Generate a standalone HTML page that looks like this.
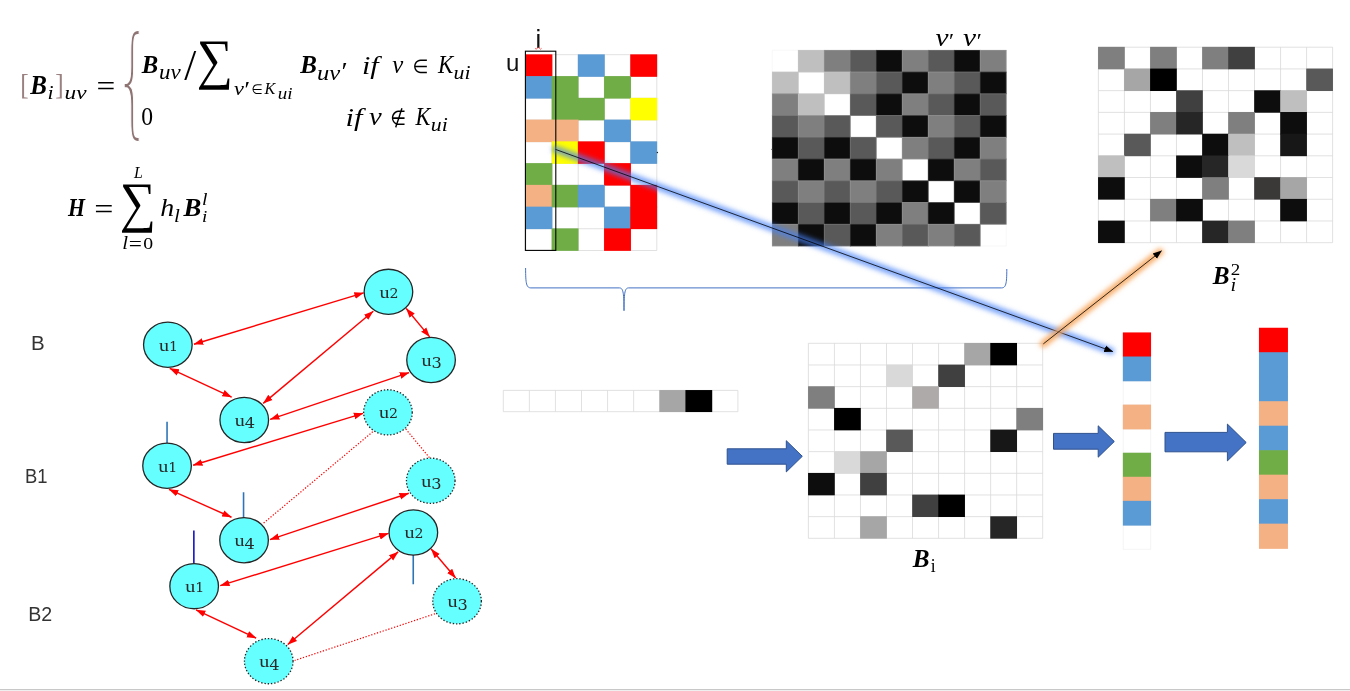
<!DOCTYPE html>
<html><head><meta charset="utf-8"><title>Bi diagram</title>
<style>
html,body{margin:0;padding:0;background:#fff;}
body{width:1350px;height:691px;overflow:hidden;position:relative;}
svg{position:absolute;left:0;top:0;display:block}
</style></head><body>
<svg width="1350" height="691" viewBox="0 0 1350 691">
<g>
<rect x="525.80" y="54.70" width="131.00" height="195.80" fill="#fff"/>
<path d="M525.80 54.70V250.50M552.00 54.70V250.50M578.20 54.70V250.50M604.40 54.70V250.50M630.60 54.70V250.50M656.80 54.70V250.50M525.80 54.70H656.80M525.80 76.46H656.80M525.80 98.21H656.80M525.80 119.97H656.80M525.80 141.72H656.80M525.80 163.48H656.80M525.80 185.23H656.80M525.80 206.99H656.80M525.80 228.74H656.80M525.80 250.50H656.80" stroke="#D9D9D9" stroke-width="0.8" fill="none" opacity="1.0"/>
<rect x="525.45" y="54.35" width="26.90" height="22.46" fill="#FF0000"/>
<rect x="577.85" y="54.35" width="26.90" height="22.46" fill="#5B9BD5"/>
<rect x="630.25" y="54.35" width="26.90" height="22.46" fill="#FF0000"/>
<rect x="525.45" y="76.11" width="26.90" height="22.46" fill="#5B9BD5"/>
<rect x="551.65" y="76.11" width="26.90" height="22.46" fill="#70AD47"/>
<rect x="604.05" y="76.11" width="26.90" height="22.46" fill="#70AD47"/>
<rect x="551.65" y="97.86" width="26.90" height="22.46" fill="#70AD47"/>
<rect x="577.85" y="97.86" width="26.90" height="22.46" fill="#70AD47"/>
<rect x="630.25" y="97.86" width="26.90" height="22.46" fill="#FFFF00"/>
<rect x="525.45" y="119.62" width="26.90" height="22.46" fill="#F4B183"/>
<rect x="551.65" y="119.62" width="26.90" height="22.46" fill="#F4B183"/>
<rect x="604.05" y="119.62" width="26.90" height="22.46" fill="#5B9BD5"/>
<rect x="551.65" y="141.37" width="26.90" height="22.46" fill="#FFFF00"/>
<rect x="577.85" y="141.37" width="26.90" height="22.46" fill="#FF0000"/>
<rect x="630.25" y="141.37" width="26.90" height="22.46" fill="#5B9BD5"/>
<rect x="525.45" y="163.13" width="26.90" height="22.46" fill="#70AD47"/>
<rect x="604.05" y="163.13" width="26.90" height="22.46" fill="#FF0000"/>
<rect x="525.45" y="184.88" width="26.90" height="22.46" fill="#F4B183"/>
<rect x="551.65" y="184.88" width="26.90" height="22.46" fill="#70AD47"/>
<rect x="577.85" y="184.88" width="26.90" height="22.46" fill="#5B9BD5"/>
<rect x="630.25" y="184.88" width="26.90" height="22.46" fill="#FF0000"/>
<rect x="525.45" y="206.64" width="26.90" height="22.46" fill="#5B9BD5"/>
<rect x="604.05" y="206.64" width="26.90" height="22.46" fill="#5B9BD5"/>
<rect x="630.25" y="206.64" width="26.90" height="22.46" fill="#FF0000"/>
<rect x="551.65" y="228.39" width="26.90" height="22.46" fill="#70AD47"/>
<rect x="604.05" y="228.39" width="26.90" height="22.46" fill="#FF0000"/>
</g>
<g>
<rect x="772.30" y="50.30" width="233.90" height="195.70" fill="#fff"/>
<rect x="797.94" y="49.95" width="26.69" height="22.44" fill="#BFBFBF"/>
<rect x="823.93" y="49.95" width="26.69" height="22.44" fill="#7F7F7F"/>
<rect x="849.92" y="49.95" width="26.69" height="22.44" fill="#595959"/>
<rect x="875.91" y="49.95" width="26.69" height="22.44" fill="#0D0D0D"/>
<rect x="901.89" y="49.95" width="26.69" height="22.44" fill="#7F7F7F"/>
<rect x="927.88" y="49.95" width="26.69" height="22.44" fill="#595959"/>
<rect x="953.87" y="49.95" width="26.69" height="22.44" fill="#0D0D0D"/>
<rect x="979.86" y="49.95" width="26.69" height="22.44" fill="#7F7F7F"/>
<rect x="771.95" y="71.69" width="26.69" height="22.44" fill="#BFBFBF"/>
<rect x="823.93" y="71.69" width="26.69" height="22.44" fill="#BFBFBF"/>
<rect x="849.92" y="71.69" width="26.69" height="22.44" fill="#7F7F7F"/>
<rect x="875.91" y="71.69" width="26.69" height="22.44" fill="#595959"/>
<rect x="901.89" y="71.69" width="26.69" height="22.44" fill="#0D0D0D"/>
<rect x="927.88" y="71.69" width="26.69" height="22.44" fill="#7F7F7F"/>
<rect x="953.87" y="71.69" width="26.69" height="22.44" fill="#595959"/>
<rect x="979.86" y="71.69" width="26.69" height="22.44" fill="#0D0D0D"/>
<rect x="771.95" y="93.44" width="26.69" height="22.44" fill="#7F7F7F"/>
<rect x="797.94" y="93.44" width="26.69" height="22.44" fill="#BFBFBF"/>
<rect x="849.92" y="93.44" width="26.69" height="22.44" fill="#595959"/>
<rect x="875.91" y="93.44" width="26.69" height="22.44" fill="#0D0D0D"/>
<rect x="901.89" y="93.44" width="26.69" height="22.44" fill="#7F7F7F"/>
<rect x="927.88" y="93.44" width="26.69" height="22.44" fill="#595959"/>
<rect x="953.87" y="93.44" width="26.69" height="22.44" fill="#0D0D0D"/>
<rect x="979.86" y="93.44" width="26.69" height="22.44" fill="#595959"/>
<rect x="771.95" y="115.18" width="26.69" height="22.44" fill="#595959"/>
<rect x="797.94" y="115.18" width="26.69" height="22.44" fill="#7F7F7F"/>
<rect x="823.93" y="115.18" width="26.69" height="22.44" fill="#595959"/>
<rect x="875.91" y="115.18" width="26.69" height="22.44" fill="#595959"/>
<rect x="901.89" y="115.18" width="26.69" height="22.44" fill="#0D0D0D"/>
<rect x="927.88" y="115.18" width="26.69" height="22.44" fill="#7F7F7F"/>
<rect x="953.87" y="115.18" width="26.69" height="22.44" fill="#595959"/>
<rect x="979.86" y="115.18" width="26.69" height="22.44" fill="#0D0D0D"/>
<rect x="771.95" y="136.93" width="26.69" height="22.44" fill="#0D0D0D"/>
<rect x="797.94" y="136.93" width="26.69" height="22.44" fill="#595959"/>
<rect x="823.93" y="136.93" width="26.69" height="22.44" fill="#0D0D0D"/>
<rect x="849.92" y="136.93" width="26.69" height="22.44" fill="#595959"/>
<rect x="901.89" y="136.93" width="26.69" height="22.44" fill="#7F7F7F"/>
<rect x="927.88" y="136.93" width="26.69" height="22.44" fill="#595959"/>
<rect x="953.87" y="136.93" width="26.69" height="22.44" fill="#0D0D0D"/>
<rect x="979.86" y="136.93" width="26.69" height="22.44" fill="#7F7F7F"/>
<rect x="771.95" y="158.67" width="26.69" height="22.44" fill="#7F7F7F"/>
<rect x="797.94" y="158.67" width="26.69" height="22.44" fill="#0D0D0D"/>
<rect x="823.93" y="158.67" width="26.69" height="22.44" fill="#7F7F7F"/>
<rect x="849.92" y="158.67" width="26.69" height="22.44" fill="#0D0D0D"/>
<rect x="875.91" y="158.67" width="26.69" height="22.44" fill="#7F7F7F"/>
<rect x="927.88" y="158.67" width="26.69" height="22.44" fill="#0D0D0D"/>
<rect x="953.87" y="158.67" width="26.69" height="22.44" fill="#7F7F7F"/>
<rect x="979.86" y="158.67" width="26.69" height="22.44" fill="#595959"/>
<rect x="771.95" y="180.42" width="26.69" height="22.44" fill="#595959"/>
<rect x="797.94" y="180.42" width="26.69" height="22.44" fill="#7F7F7F"/>
<rect x="823.93" y="180.42" width="26.69" height="22.44" fill="#595959"/>
<rect x="849.92" y="180.42" width="26.69" height="22.44" fill="#7F7F7F"/>
<rect x="875.91" y="180.42" width="26.69" height="22.44" fill="#595959"/>
<rect x="901.89" y="180.42" width="26.69" height="22.44" fill="#0D0D0D"/>
<rect x="953.87" y="180.42" width="26.69" height="22.44" fill="#0D0D0D"/>
<rect x="979.86" y="180.42" width="26.69" height="22.44" fill="#7F7F7F"/>
<rect x="771.95" y="202.16" width="26.69" height="22.44" fill="#0D0D0D"/>
<rect x="797.94" y="202.16" width="26.69" height="22.44" fill="#595959"/>
<rect x="823.93" y="202.16" width="26.69" height="22.44" fill="#0D0D0D"/>
<rect x="849.92" y="202.16" width="26.69" height="22.44" fill="#595959"/>
<rect x="875.91" y="202.16" width="26.69" height="22.44" fill="#0D0D0D"/>
<rect x="901.89" y="202.16" width="26.69" height="22.44" fill="#7F7F7F"/>
<rect x="927.88" y="202.16" width="26.69" height="22.44" fill="#0D0D0D"/>
<rect x="979.86" y="202.16" width="26.69" height="22.44" fill="#595959"/>
<rect x="771.95" y="223.91" width="26.69" height="22.44" fill="#7F7F7F"/>
<rect x="797.94" y="223.91" width="26.69" height="22.44" fill="#0D0D0D"/>
<rect x="823.93" y="223.91" width="26.69" height="22.44" fill="#595959"/>
<rect x="849.92" y="223.91" width="26.69" height="22.44" fill="#0D0D0D"/>
<rect x="875.91" y="223.91" width="26.69" height="22.44" fill="#7F7F7F"/>
<rect x="901.89" y="223.91" width="26.69" height="22.44" fill="#595959"/>
<rect x="927.88" y="223.91" width="26.69" height="22.44" fill="#7F7F7F"/>
<rect x="953.87" y="223.91" width="26.69" height="22.44" fill="#595959"/>
<path d="M772.30 50.30V246.00M798.29 50.30V246.00M824.28 50.30V246.00M850.27 50.30V246.00M876.26 50.30V246.00M902.24 50.30V246.00M928.23 50.30V246.00M954.22 50.30V246.00M980.21 50.30V246.00M1006.20 50.30V246.00M772.30 50.30H1006.20M772.30 72.04H1006.20M772.30 93.79H1006.20M772.30 115.53H1006.20M772.30 137.28H1006.20M772.30 159.02H1006.20M772.30 180.77H1006.20M772.30 202.51H1006.20M772.30 224.26H1006.20M772.30 246.00H1006.20" stroke="#D9D9D9" stroke-width="0.6" fill="none" opacity="0.3"/>
</g>
<g>
<rect x="1098.40" y="47.20" width="234.20" height="195.50" fill="#fff"/>
<path d="M1098.40 47.20V242.70M1124.42 47.20V242.70M1150.44 47.20V242.70M1176.47 47.20V242.70M1202.49 47.20V242.70M1228.51 47.20V242.70M1254.53 47.20V242.70M1280.56 47.20V242.70M1306.58 47.20V242.70M1332.60 47.20V242.70M1098.40 47.20H1332.60M1098.40 68.92H1332.60M1098.40 90.64H1332.60M1098.40 112.37H1332.60M1098.40 134.09H1332.60M1098.40 155.81H1332.60M1098.40 177.53H1332.60M1098.40 199.26H1332.60M1098.40 220.98H1332.60M1098.40 242.70H1332.60" stroke="#D9D9D9" stroke-width="0.8" fill="none" opacity="1.0"/>
<rect x="1098.05" y="46.85" width="26.72" height="22.42" fill="#7F7F7F"/>
<rect x="1150.09" y="46.85" width="26.72" height="22.42" fill="#7F7F7F"/>
<rect x="1202.14" y="46.85" width="26.72" height="22.42" fill="#7F7F7F"/>
<rect x="1228.16" y="46.85" width="26.72" height="22.42" fill="#404040"/>
<rect x="1124.07" y="68.57" width="26.72" height="22.42" fill="#A6A6A6"/>
<rect x="1150.09" y="68.57" width="26.72" height="22.42" fill="#000000"/>
<rect x="1306.23" y="68.57" width="26.72" height="22.42" fill="#595959"/>
<rect x="1176.12" y="90.29" width="26.72" height="22.42" fill="#404040"/>
<rect x="1254.18" y="90.29" width="26.72" height="22.42" fill="#0D0D0D"/>
<rect x="1280.21" y="90.29" width="26.72" height="22.42" fill="#BFBFBF"/>
<rect x="1150.09" y="112.02" width="26.72" height="22.42" fill="#7F7F7F"/>
<rect x="1176.12" y="112.02" width="26.72" height="22.42" fill="#262626"/>
<rect x="1228.16" y="112.02" width="26.72" height="22.42" fill="#7F7F7F"/>
<rect x="1280.21" y="112.02" width="26.72" height="22.42" fill="#0D0D0D"/>
<rect x="1124.07" y="133.74" width="26.72" height="22.42" fill="#595959"/>
<rect x="1202.14" y="133.74" width="26.72" height="22.42" fill="#0D0D0D"/>
<rect x="1228.16" y="133.74" width="26.72" height="22.42" fill="#BFBFBF"/>
<rect x="1280.21" y="133.74" width="26.72" height="22.42" fill="#171717"/>
<rect x="1098.05" y="155.46" width="26.72" height="22.42" fill="#BFBFBF"/>
<rect x="1176.12" y="155.46" width="26.72" height="22.42" fill="#0D0D0D"/>
<rect x="1202.14" y="155.46" width="26.72" height="22.42" fill="#262626"/>
<rect x="1228.16" y="155.46" width="26.72" height="22.42" fill="#D9D9D9"/>
<rect x="1098.05" y="177.18" width="26.72" height="22.42" fill="#0D0D0D"/>
<rect x="1202.14" y="177.18" width="26.72" height="22.42" fill="#7F7F7F"/>
<rect x="1254.18" y="177.18" width="26.72" height="22.42" fill="#3B3838"/>
<rect x="1280.21" y="177.18" width="26.72" height="22.42" fill="#A6A6A6"/>
<rect x="1150.09" y="198.91" width="26.72" height="22.42" fill="#7F7F7F"/>
<rect x="1176.12" y="198.91" width="26.72" height="22.42" fill="#0D0D0D"/>
<rect x="1280.21" y="198.91" width="26.72" height="22.42" fill="#0D0D0D"/>
<rect x="1098.05" y="220.63" width="26.72" height="22.42" fill="#0D0D0D"/>
<rect x="1202.14" y="220.63" width="26.72" height="22.42" fill="#262626"/>
<rect x="1228.16" y="220.63" width="26.72" height="22.42" fill="#7F7F7F"/>
</g>
<g>
<rect x="808.40" y="343.30" width="234.30" height="195.00" fill="#fff"/>
<path d="M808.40 343.30V538.30M834.43 343.30V538.30M860.47 343.30V538.30M886.50 343.30V538.30M912.53 343.30V538.30M938.57 343.30V538.30M964.60 343.30V538.30M990.63 343.30V538.30M1016.67 343.30V538.30M1042.70 343.30V538.30M808.40 343.30H1042.70M808.40 364.97H1042.70M808.40 386.63H1042.70M808.40 408.30H1042.70M808.40 429.97H1042.70M808.40 451.63H1042.70M808.40 473.30H1042.70M808.40 494.97H1042.70M808.40 516.63H1042.70M808.40 538.30H1042.70" stroke="#D9D9D9" stroke-width="0.8" fill="none" opacity="1.0"/>
<rect x="964.25" y="342.95" width="26.73" height="22.37" fill="#A6A6A6"/>
<rect x="990.28" y="342.95" width="26.73" height="22.37" fill="#000000"/>
<rect x="886.15" y="364.62" width="26.73" height="22.37" fill="#D9D9D9"/>
<rect x="938.22" y="364.62" width="26.73" height="22.37" fill="#404040"/>
<rect x="808.05" y="386.28" width="26.73" height="22.37" fill="#7F7F7F"/>
<rect x="912.18" y="386.28" width="26.73" height="22.37" fill="#AEAAAA"/>
<rect x="834.08" y="407.95" width="26.73" height="22.37" fill="#000000"/>
<rect x="1016.32" y="407.95" width="26.73" height="22.37" fill="#7F7F7F"/>
<rect x="886.15" y="429.62" width="26.73" height="22.37" fill="#595959"/>
<rect x="990.28" y="429.62" width="26.73" height="22.37" fill="#171717"/>
<rect x="834.08" y="451.28" width="26.73" height="22.37" fill="#D9D9D9"/>
<rect x="860.12" y="451.28" width="26.73" height="22.37" fill="#A6A6A6"/>
<rect x="808.05" y="472.95" width="26.73" height="22.37" fill="#0D0D0D"/>
<rect x="860.12" y="472.95" width="26.73" height="22.37" fill="#404040"/>
<rect x="912.18" y="494.62" width="26.73" height="22.37" fill="#404040"/>
<rect x="938.22" y="494.62" width="26.73" height="22.37" fill="#000000"/>
<rect x="860.12" y="516.28" width="26.73" height="22.37" fill="#A6A6A6"/>
<rect x="990.28" y="516.28" width="26.73" height="22.37" fill="#262626"/>
</g>
<g>
<rect x="503.30" y="390.40" width="234.60" height="21.30" fill="#fff"/>
<path d="M503.30 390.40V411.70M529.37 390.40V411.70M555.43 390.40V411.70M581.50 390.40V411.70M607.57 390.40V411.70M633.63 390.40V411.70M659.70 390.40V411.70M685.77 390.40V411.70M711.83 390.40V411.70M737.90 390.40V411.70M503.30 390.40H737.90M503.30 411.70H737.90" stroke="#D9D9D9" stroke-width="0.8" fill="none" opacity="1.0"/>
<rect x="659.35" y="390.05" width="26.77" height="22.00" fill="#A6A6A6"/>
<rect x="685.42" y="390.05" width="26.77" height="22.00" fill="#000000"/>
</g>
<g>
<rect x="1123.20" y="332.80" width="27.50" height="216.50" fill="#fff"/>
<path d="M1123.20 332.80V549.30M1150.70 332.80V549.30M1123.20 332.80H1150.70M1123.20 356.86H1150.70M1123.20 380.91H1150.70M1123.20 404.97H1150.70M1123.20 429.02H1150.70M1123.20 453.08H1150.70M1123.20 477.13H1150.70M1123.20 501.19H1150.70M1123.20 525.24H1150.70M1123.20 549.30H1150.70" stroke="#D9D9D9" stroke-width="0.5" fill="none" opacity="0.6"/>
<rect x="1122.85" y="332.45" width="28.20" height="24.76" fill="#FF0000"/>
<rect x="1122.85" y="356.51" width="28.20" height="24.76" fill="#5B9BD5"/>
<rect x="1122.85" y="404.62" width="28.20" height="24.76" fill="#F4B183"/>
<rect x="1122.85" y="452.73" width="28.20" height="24.76" fill="#70AD47"/>
<rect x="1122.85" y="476.78" width="28.20" height="24.76" fill="#F4B183"/>
<rect x="1122.85" y="500.84" width="28.20" height="24.76" fill="#5B9BD5"/>
</g>
<g>
<rect x="1259.30" y="328.10" width="28.30" height="220.40" fill="#fff"/>
<rect x="1258.95" y="327.75" width="29.00" height="25.19" fill="#FF0000"/>
<rect x="1258.95" y="352.24" width="29.00" height="25.19" fill="#5B9BD5"/>
<rect x="1258.95" y="376.73" width="29.00" height="25.19" fill="#5B9BD5"/>
<rect x="1258.95" y="401.22" width="29.00" height="25.19" fill="#F4B183"/>
<rect x="1258.95" y="425.71" width="29.00" height="25.19" fill="#5B9BD5"/>
<rect x="1258.95" y="450.19" width="29.00" height="25.19" fill="#70AD47"/>
<rect x="1258.95" y="474.68" width="29.00" height="25.19" fill="#F4B183"/>
<rect x="1258.95" y="499.17" width="29.00" height="25.19" fill="#5B9BD5"/>
<rect x="1258.95" y="523.66" width="29.00" height="25.19" fill="#F4B183"/>
</g>
<rect x="525.4" y="51.2" width="30.4" height="199.2" fill="none" stroke="#000" stroke-width="1.1"/>
<path d="M525.6 268 C525.6 284 526.5 287.9 531 287.9 H619.3 C622.8 287.9 624 291 624 310.7 C624 291 625.2 287.9 628.7 287.9 H1001.4 C1005.9 287.9 1006.8 284 1006.8 269" fill="none" stroke="#4472C4" stroke-width="1"/>
<path d="M727.2 448.8H786.3V440.7L802.3 456.29999999999995L786.3 471.9V464.2H727.2Z" fill="#4472C4" stroke="#2F528F" stroke-width="1"/>
<path d="M1053.5 433.4H1098.2V425.8L1114.3 441.5L1098.2 457.2V449.2H1053.5Z" fill="#4472C4" stroke="#2F528F" stroke-width="1"/>
<path d="M1165 432.4H1227.4V424.1L1246.2 442.5L1227.4 460.9V451.8H1165Z" fill="#4472C4" stroke="#2F528F" stroke-width="1"/>
<defs>
<filter id="gb" x="-10%" y="-10%" width="120%" height="120%" filterUnits="userSpaceOnUse" ><feGaussianBlur stdDeviation="2.4"/></filter>
<marker id="ah" viewBox="0 0 10 10" refX="9.5" refY="5" markerWidth="9" markerHeight="9" markerUnits="userSpaceOnUse" orient="auto-start-reverse"><path d="M0 1.2L10 5L0 8.8Z" fill="#000"/></marker>
<marker id="rh" viewBox="0 0 10 10" refX="9.7" refY="5" markerWidth="9.6" markerHeight="9.6" markerUnits="userSpaceOnUse" orient="auto-start-reverse"><path d="M0 1.5L10 5L0 8.5Z" fill="#FF0000"/></marker>
</defs>
<g filter="url(#gb)"><line x1="555.5" y1="149.4" x2="1111" y2="351" stroke="#4482F7" stroke-width="7" stroke-linecap="round" opacity="0.72"/></g>
<line x1="555.5" y1="149.4" x2="1112.8" y2="351.6" stroke="#000" stroke-width="0.8" marker-end="url(#ah)"/>
<g filter="url(#gb)"><line x1="1043.3" y1="343.9" x2="1160" y2="252" stroke="#F7A55A" stroke-width="7" stroke-linecap="round" opacity="0.9"/></g>
<line x1="1043.3" y1="343.9" x2="1161.5" y2="250.9" stroke="#000" stroke-width="0.8" marker-end="url(#ah)"/>
<g transform="translate(0.25 0.35)">
<line x1="193.7" y1="343.9" x2="363.4" y2="292.5" stroke="#FF0000" stroke-width="1.4" marker-start="url(#rh)" marker-end="url(#rh)"/>
<line x1="169.5" y1="368.1" x2="231.4" y2="396.7" stroke="#FF0000" stroke-width="1.4" marker-start="url(#rh)" marker-end="url(#rh)"/>
<line x1="373.0" y1="310.9" x2="263.0" y2="403.0" stroke="#FF0000" stroke-width="1.4" marker-start="url(#rh)" marker-end="url(#rh)"/>
<line x1="406.0" y1="308.1" x2="429.4" y2="336.5" stroke="#FF0000" stroke-width="1.4" marker-start="url(#rh)" marker-end="url(#rh)"/>
<line x1="408.8" y1="372.2" x2="269.9" y2="419.0" stroke="#FF0000" stroke-width="1.4" marker-start="url(#rh)" marker-end="url(#rh)"/>
<ellipse cx="167.6" cy="344.4" rx="24.3" ry="22.6" fill="#66FFFF" stroke="#262626" stroke-width="1.3"/><text transform="translate(168.2 350.3) scale(1.14 1)" text-anchor="middle" font-family="'Liberation Serif','DejaVu Serif',serif" font-size="17.6" fill="#2A2A2A">u<tspan font-family="'DejaVu Serif','Liberation Serif',serif" font-size="12.4" dy="0">1</tspan></text>
<ellipse cx="388.2" cy="291.5" rx="24.3" ry="22.6" fill="#66FFFF" stroke="#262626" stroke-width="1.3"/><text transform="translate(388.8 297.4) scale(1.14 1)" text-anchor="middle" font-family="'Liberation Serif','DejaVu Serif',serif" font-size="17.6" fill="#2A2A2A">u<tspan font-family="'DejaVu Serif','Liberation Serif',serif" font-size="12.4" dy="0">2</tspan></text>
<ellipse cx="430.8" cy="359.7" rx="24.3" ry="22.6" fill="#66FFFF" stroke="#262626" stroke-width="1.3"/><text transform="translate(431.4 365.6) scale(1.14 1)" text-anchor="middle" font-family="'Liberation Serif','DejaVu Serif',serif" font-size="17.6" fill="#2A2A2A">u<tspan font-family="'DejaVu Serif','Liberation Serif',serif" font-size="14.2" dy="2.5">3</tspan></text>
<ellipse cx="244.0" cy="419.7" rx="24.3" ry="22.6" fill="#66FFFF" stroke="#262626" stroke-width="1.3"/><text transform="translate(244.6 425.6) scale(1.14 1)" text-anchor="middle" font-family="'Liberation Serif','DejaVu Serif',serif" font-size="17.6" fill="#2A2A2A">u<tspan font-family="'DejaVu Serif','Liberation Serif',serif" font-size="14.2" dy="2.5">4</tspan></text>
<line x1="166.8" y1="421.3" x2="166.8" y2="443" stroke="#2E75B6" stroke-width="1.6"/>
<line x1="243.3" y1="491.9" x2="243.3" y2="518" stroke="#2E75B6" stroke-width="1.6"/>
<line x1="193.6" y1="530.1" x2="193.6" y2="563.5" stroke="#1414C8" stroke-width="1.6"/>
<line x1="413" y1="554.5" x2="413" y2="583.9" stroke="#2E75B6" stroke-width="1.6"/>
<line x1="192.9" y1="464.9" x2="362.9" y2="413.0" stroke="#FF0000" stroke-width="1.4" marker-start="url(#rh)" marker-end="url(#rh)"/>
<line x1="168.7" y1="489.1" x2="231.2" y2="516.9" stroke="#FF0000" stroke-width="1.4" marker-start="url(#rh)" marker-end="url(#rh)"/>
<line x1="372.5" y1="431.4" x2="262.8" y2="523.2" stroke="#FF0000" stroke-width="1.2" stroke-dasharray="1.3 1.7"/>
<line x1="405.5" y1="428.6" x2="429.1" y2="457.2" stroke="#FF0000" stroke-width="1.2" stroke-dasharray="1.3 1.7"/>
<line x1="408.5" y1="492.9" x2="269.7" y2="539.2" stroke="#FF0000" stroke-width="1.4" marker-start="url(#rh)" marker-end="url(#rh)"/>
<ellipse cx="166.8" cy="465.4" rx="24.3" ry="22.6" fill="#66FFFF" stroke="#262626" stroke-width="1.3"/><text transform="translate(167.4 471.3) scale(1.14 1)" text-anchor="middle" font-family="'Liberation Serif','DejaVu Serif',serif" font-size="17.6" fill="#2A2A2A">u<tspan font-family="'DejaVu Serif','Liberation Serif',serif" font-size="12.4" dy="0">1</tspan></text>
<ellipse cx="387.7" cy="412.0" rx="24.3" ry="22.6" fill="#66FFFF" stroke="#262626" stroke-width="1.3" stroke-dasharray="1.4 1.9"/><text transform="translate(388.3 417.9) scale(1.14 1)" text-anchor="middle" font-family="'Liberation Serif','DejaVu Serif',serif" font-size="17.6" fill="#2A2A2A">u<tspan font-family="'DejaVu Serif','Liberation Serif',serif" font-size="12.4" dy="0">2</tspan></text>
<ellipse cx="430.5" cy="480.4" rx="24.3" ry="22.6" fill="#66FFFF" stroke="#262626" stroke-width="1.3" stroke-dasharray="1.4 1.9"/><text transform="translate(431.1 486.3) scale(1.14 1)" text-anchor="middle" font-family="'Liberation Serif','DejaVu Serif',serif" font-size="17.6" fill="#2A2A2A">u<tspan font-family="'DejaVu Serif','Liberation Serif',serif" font-size="14.2" dy="2.5">3</tspan></text>
<ellipse cx="243.8" cy="539.9" rx="24.3" ry="22.6" fill="#66FFFF" stroke="#262626" stroke-width="1.3"/><text transform="translate(244.4 545.8) scale(1.14 1)" text-anchor="middle" font-family="'Liberation Serif','DejaVu Serif',serif" font-size="17.6" fill="#2A2A2A">u<tspan font-family="'DejaVu Serif','Liberation Serif',serif" font-size="14.2" dy="2.5">4</tspan></text>
<line x1="220.0" y1="585.3" x2="388.3" y2="533.1" stroke="#FF0000" stroke-width="1.4" marker-start="url(#rh)" marker-end="url(#rh)"/>
<line x1="195.8" y1="609.5" x2="255.9" y2="637.8" stroke="#FF0000" stroke-width="1.4" marker-start="url(#rh)" marker-end="url(#rh)"/>
<line x1="397.9" y1="551.5" x2="287.5" y2="644.1" stroke="#FF0000" stroke-width="1.4" marker-start="url(#rh)" marker-end="url(#rh)"/>
<line x1="430.9" y1="548.7" x2="455.4" y2="577.7" stroke="#FF0000" stroke-width="1.4" marker-start="url(#rh)" marker-end="url(#rh)"/>
<line x1="434.8" y1="613.4" x2="294.4" y2="660.1" stroke="#FF0000" stroke-width="1.2" stroke-dasharray="1.3 1.7"/>
<ellipse cx="193.9" cy="585.8" rx="24.3" ry="22.6" fill="#66FFFF" stroke="#262626" stroke-width="1.3"/><text transform="translate(194.5 591.7) scale(1.14 1)" text-anchor="middle" font-family="'Liberation Serif','DejaVu Serif',serif" font-size="17.6" fill="#2A2A2A">u<tspan font-family="'DejaVu Serif','Liberation Serif',serif" font-size="12.4" dy="0">1</tspan></text>
<ellipse cx="413.1" cy="532.1" rx="24.3" ry="22.6" fill="#66FFFF" stroke="#262626" stroke-width="1.3"/><text transform="translate(413.7 538.0) scale(1.14 1)" text-anchor="middle" font-family="'Liberation Serif','DejaVu Serif',serif" font-size="17.6" fill="#2A2A2A">u<tspan font-family="'DejaVu Serif','Liberation Serif',serif" font-size="12.4" dy="0">2</tspan></text>
<ellipse cx="456.8" cy="600.9" rx="24.3" ry="22.6" fill="#66FFFF" stroke="#262626" stroke-width="1.3" stroke-dasharray="1.4 1.9"/><text transform="translate(457.4 606.8) scale(1.14 1)" text-anchor="middle" font-family="'Liberation Serif','DejaVu Serif',serif" font-size="17.6" fill="#2A2A2A">u<tspan font-family="'DejaVu Serif','Liberation Serif',serif" font-size="14.2" dy="2.5">3</tspan></text>
<ellipse cx="268.5" cy="660.8" rx="24.3" ry="22.6" fill="#66FFFF" stroke="#262626" stroke-width="1.3" stroke-dasharray="1.4 1.9"/><text transform="translate(269.1 666.7) scale(1.14 1)" text-anchor="middle" font-family="'Liberation Serif','DejaVu Serif',serif" font-size="17.6" fill="#2A2A2A">u<tspan font-family="'DejaVu Serif','Liberation Serif',serif" font-size="14.2" dy="2.5">4</tspan></text>
</g>
<text x="31" y="350.2" font-family="'Liberation Sans','DejaVu Sans',sans-serif" font-size="20.5" fill="#333">B</text>
<text x="25" y="482.8" font-family="'Liberation Sans','DejaVu Sans',sans-serif" font-size="20.5" fill="#333" textLength="22.5" lengthAdjust="spacingAndGlyphs">B1</text>
<text x="28.2" y="621.3" font-family="'Liberation Sans','DejaVu Sans',sans-serif" font-size="20.5" fill="#333" textLength="24" lengthAdjust="spacingAndGlyphs">B2</text>
<text x="535.6" y="47.6" font-family="'Liberation Sans','DejaVu Sans',sans-serif" font-size="25.5" fill="#111">i</text>
<path d="M535 48.3 q1.1 1.8 2.2 0 t2.2 0 t2.2 0" fill="none" stroke="#FF3030" stroke-width="0.8"/>
<text x="506" y="71.2" font-family="'Liberation Sans','DejaVu Sans',sans-serif" font-size="24" fill="#111">u</text>
<circle cx="657.4" cy="152.5" r="0.7" fill="#222"/><circle cx="771.6" cy="149.4" r="0.6" fill="#888"/>
<rect x="0" y="689" width="1350" height="1" fill="#C8C8C8"/><rect x="0" y="690" width="1350" height="1" fill="#EFEFEF"/>
<text transform="translate(20.33 93.79) scale(0.2522 0.2928)" font-family="'Liberation Serif','DejaVu Serif',serif" font-style="normal" font-weight="normal" font-size="100" fill="#9A8080">[</text>
<text transform="translate(30.15 93.74) scale(0.2500 0.2636)" font-family="'Liberation Serif','DejaVu Serif',serif" font-style="italic" font-weight="bold" font-size="100" fill="#000">B</text>
<text transform="translate(47.60 98.71) scale(0.2201 0.1866)" font-family="'Liberation Serif','DejaVu Serif',serif" font-style="italic" font-weight="normal" font-size="100" fill="#000">i</text>
<text transform="translate(55.34 93.79) scale(0.2522 0.2928)" font-family="'Liberation Serif','DejaVu Serif',serif" font-style="normal" font-weight="normal" font-size="100" fill="#9A8080">]</text>
<text transform="translate(64.54 98.90) scale(0.2335 0.1979)" font-family="'Liberation Serif','DejaVu Serif',serif" font-style="italic" font-weight="normal" font-size="100" fill="#000">uv</text>
<text transform="translate(96.57 95.96) scale(0.3333 0.2840)" font-family="'Liberation Serif','DejaVu Serif',serif" font-style="normal" font-weight="normal" font-size="100" fill="#000">=</text>
<text stroke="#fff" stroke-width="1.6" transform="translate(114.56 122.13) scale(0.5714 1.2161)" font-family="'DejaVu Sans Light','DejaVu Sans',sans-serif" font-style="normal" font-weight="200" font-size="100" fill="#8F7474">{</text>
<text transform="translate(141.75 73.34) scale(0.2469 0.2591)" font-family="'Liberation Serif','DejaVu Serif',serif" font-style="italic" font-weight="bold" font-size="100" fill="#000">B</text>
<text transform="translate(159.08 78.69) scale(0.2297 0.2085)" font-family="'Liberation Serif','DejaVu Serif',serif" font-style="italic" font-weight="normal" font-size="100" fill="#000">uv</text>
<text transform="translate(184.30 79.73) scale(0.4321 0.4358)" font-family="'Liberation Serif','DejaVu Serif',serif" font-style="normal" font-weight="normal" font-size="100" fill="#000">/</text>
<text transform="translate(196.47 78.25) scale(0.5082 0.5568)" font-family="'Liberation Serif','DejaVu Serif',serif" font-style="normal" font-weight="normal" font-size="100" fill="#000">∑</text>
<text transform="translate(234.01 94.61) scale(0.2234 0.1894)" font-family="'Liberation Serif','DejaVu Serif',serif" font-style="italic" font-weight="normal" font-size="100" fill="#000">v</text>
<text transform="translate(242.80 97.02) scale(0.2655 0.2250)" font-family="'Liberation Serif','DejaVu Serif',serif" font-style="italic" font-weight="normal" font-size="100" fill="#000">′</text>
<text transform="translate(251.56 94.46) scale(0.1296 0.1361)" font-family="'DejaVu Sans','Liberation Sans',sans-serif" font-style="normal" font-weight="normal" font-size="100" fill="#000">∈</text>
<text transform="translate(264.52 94.43) scale(0.1616 0.1712)" font-family="'Liberation Serif','DejaVu Serif',serif" font-style="italic" font-weight="normal" font-size="100" fill="#000">K</text>
<text transform="translate(277.64 98.54) scale(0.1902 0.1612)" font-family="'Liberation Serif','DejaVu Serif',serif" font-style="italic" font-weight="normal" font-size="100" fill="#000">ui</text>
<text transform="translate(300.25 73.34) scale(0.2500 0.2591)" font-family="'Liberation Serif','DejaVu Serif',serif" font-style="italic" font-weight="bold" font-size="100" fill="#000">B</text>
<text transform="translate(316.97 79.79) scale(0.2460 0.2085)" font-family="'Liberation Serif','DejaVu Serif',serif" font-style="italic" font-weight="normal" font-size="100" fill="#000">uv</text>
<text transform="translate(339.86 80.31) scale(0.2852 0.2417)" font-family="'Liberation Serif','DejaVu Serif',serif" font-style="italic" font-weight="normal" font-size="100" fill="#000">′</text>
<text transform="translate(361.93 73.54) scale(0.3014 0.2554)" font-family="'Liberation Serif','DejaVu Serif',serif" font-style="italic" font-weight="normal" font-size="100" fill="#000">if</text>
<text transform="translate(392.35 73.45) scale(0.2477 0.2511)" font-family="'Liberation Serif','DejaVu Serif',serif" font-style="italic" font-weight="normal" font-size="100" fill="#000">v</text>
<text transform="translate(412.54 73.21) scale(0.1831 0.1903)" font-family="'DejaVu Sans','Liberation Sans',sans-serif" font-style="normal" font-weight="normal" font-size="100" fill="#000">∈</text>
<text transform="translate(437.96 73.14) scale(0.2288 0.2576)" font-family="'Liberation Serif','DejaVu Serif',serif" font-style="italic" font-weight="normal" font-size="100" fill="#000">K</text>
<text transform="translate(453.47 78.51) scale(0.2184 0.1851)" font-family="'Liberation Serif','DejaVu Serif',serif" font-style="italic" font-weight="normal" font-size="100" fill="#000">ui</text>
<text transform="translate(141.19 125.11) scale(0.2364 0.2471)" font-family="'Liberation Serif','DejaVu Serif',serif" font-style="normal" font-weight="normal" font-size="100" fill="#000">0</text>
<text transform="translate(345.54 125.87) scale(0.3053 0.2587)" font-family="'Liberation Serif','DejaVu Serif',serif" font-style="italic" font-weight="normal" font-size="100" fill="#000">if</text>
<text transform="translate(368.91 125.25) scale(0.2864 0.2532)" font-family="'Liberation Serif','DejaVu Serif',serif" font-style="italic" font-weight="normal" font-size="100" fill="#000">v</text>
<text transform="translate(390.15 125.26) scale(0.1817 0.2031)" font-family="'DejaVu Sans','Liberation Sans',sans-serif" font-style="normal" font-weight="normal" font-size="100" fill="#000">∉</text>
<text transform="translate(415.54 124.94) scale(0.2219 0.2576)" font-family="'Liberation Serif','DejaVu Serif',serif" font-style="italic" font-weight="normal" font-size="100" fill="#000">K</text>
<text transform="translate(430.87 130.61) scale(0.2184 0.1851)" font-family="'Liberation Serif','DejaVu Serif',serif" font-style="italic" font-weight="normal" font-size="100" fill="#000">ui</text>
<text transform="translate(67.92 215.65) scale(0.2183 0.2530)" font-family="'Liberation Serif','DejaVu Serif',serif" font-style="italic" font-weight="bold" font-size="100" fill="#000">H</text>
<text transform="translate(94.24 219.08) scale(0.3396 0.3040)" font-family="'Liberation Serif','DejaVu Serif',serif" font-style="normal" font-weight="normal" font-size="100" fill="#000">=</text>
<text transform="translate(119.47 220.85) scale(0.5082 0.5568)" font-family="'Liberation Serif','DejaVu Serif',serif" font-style="normal" font-weight="normal" font-size="100" fill="#000">∑</text>
<text transform="translate(134.12 177.52) scale(0.1585 0.1758)" font-family="'Liberation Serif','DejaVu Serif',serif" font-style="italic" font-weight="normal" font-size="100" fill="#000">L</text>
<text transform="translate(122.15 249.30) scale(0.2095 0.1783)" font-family="'Liberation Serif','DejaVu Serif',serif" font-style="italic" font-weight="normal" font-size="100" fill="#000">l</text>
<text transform="translate(128.87 251.00) scale(0.2333 0.2000)" font-family="'Liberation Serif','DejaVu Serif',serif" font-style="normal" font-weight="normal" font-size="100" fill="#000">=</text>
<text transform="translate(143.21 248.96) scale(0.1977 0.1691)" font-family="'Liberation Serif','DejaVu Serif',serif" font-style="normal" font-weight="normal" font-size="100" fill="#000">0</text>
<text transform="translate(160.36 215.84) scale(0.2791 0.2586)" font-family="'Liberation Serif','DejaVu Serif',serif" font-style="italic" font-weight="normal" font-size="100" fill="#000">h</text>
<text transform="translate(174.11 221.50) scale(0.2121 0.1797)" font-family="'Liberation Serif','DejaVu Serif',serif" font-style="italic" font-weight="normal" font-size="100" fill="#000">l</text>
<text transform="translate(183.47 215.65) scale(0.2672 0.2530)" font-family="'Liberation Serif','DejaVu Serif',serif" font-style="italic" font-weight="bold" font-size="100" fill="#000">B</text>
<text transform="translate(202.00 204.70) scale(0.1967 0.1667)" font-family="'Liberation Serif','DejaVu Serif',serif" font-style="italic" font-weight="normal" font-size="100" fill="#000">l</text>
<text transform="translate(202.10 222.14) scale(0.1902 0.1612)" font-family="'Liberation Serif','DejaVu Serif',serif" font-style="italic" font-weight="normal" font-size="100" fill="#000">i</text>
<text transform="translate(935.61 45.84) scale(0.2932 0.2553)" font-family="'Liberation Serif','DejaVu Serif',serif" font-style="italic" font-weight="normal" font-size="100" fill="#000">v</text>
<text transform="translate(947.57 47.80) scale(0.2360 0.2000)" font-family="'Liberation Serif','DejaVu Serif',serif" font-style="italic" font-weight="normal" font-size="100" fill="#000">′</text>
<text transform="translate(962.91 45.84) scale(0.2932 0.2553)" font-family="'Liberation Serif','DejaVu Serif',serif" font-style="italic" font-weight="normal" font-size="100" fill="#000">v</text>
<text transform="translate(975.17 47.80) scale(0.2360 0.2000)" font-family="'Liberation Serif','DejaVu Serif',serif" font-style="italic" font-weight="normal" font-size="100" fill="#000">′</text>
<text transform="translate(1212.65 284.35) scale(0.2516 0.2455)" font-family="'Liberation Serif','DejaVu Serif',serif" font-style="italic" font-weight="bold" font-size="100" fill="#000">B</text>
<text transform="translate(1230.74 274.82) scale(0.1902 0.1761)" font-family="'Liberation Serif','DejaVu Serif',serif" font-style="normal" font-weight="normal" font-size="100" fill="#000">2</text>
<text transform="translate(1230.47 291.32) scale(0.2050 0.1821)" font-family="'Liberation Serif','DejaVu Serif',serif" font-style="italic" font-weight="normal" font-size="100" fill="#000">i</text>
<text transform="translate(912.65 566.56) scale(0.2516 0.2439)" font-family="'Liberation Serif','DejaVu Serif',serif" font-style="italic" font-weight="bold" font-size="100" fill="#000">B</text>
<text transform="translate(930.65 571.52) scale(0.1750 0.1821)" font-family="'Liberation Serif','DejaVu Serif',serif" font-style="normal" font-weight="normal" font-size="100" fill="#000">i</text>
</svg>
</body></html>
